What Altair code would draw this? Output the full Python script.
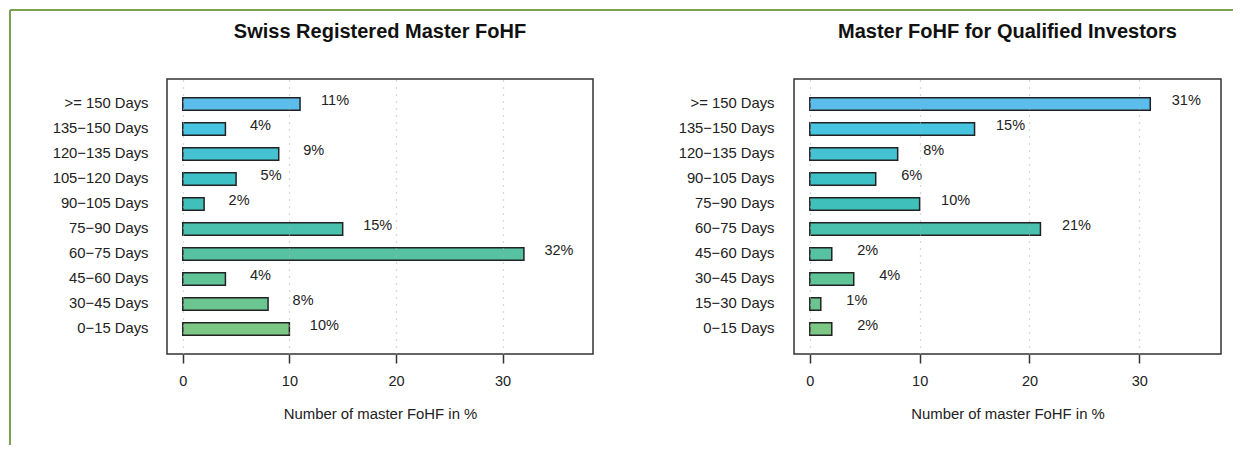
import altair as alt
import pandas as pd

left_cats = [">= 150 Days", "135−150 Days", "120−135 Days", "105−120 Days", "90−105 Days",
             "75−90 Days", "60−75 Days", "45−60 Days", "30−45 Days", "0−15 Days"]
left_vals = [11, 4, 9, 5, 2, 15, 32, 4, 8, 10]
right_cats = [">= 150 Days", "135−150 Days", "120−135 Days", "90−105 Days", "75−90 Days",
              "60−75 Days", "45−60 Days", "30−45 Days", "15−30 Days", "0−15 Days"]
right_vals = [31, 15, 8, 6, 10, 21, 2, 4, 1, 2]
bar_colors = ["#5BBDEB", "#47C4E0", "#44C2D2", "#3EC1C6", "#40C0BA",
              "#4AC1AE", "#56C2A2", "#5FC498", "#6BC58E", "#7CC784"]
x_ticks = [0, 10, 20, 30]
titles = ["Swiss Registered Master FoHF", "Master FoHF for Qualified Investors"]
x_title = "Number of master FoHF in %"

FONT = "Liberation Sans"
GREEN = "#7aa24e"
TXT = "#222222"


def panel(cats, vals, title, width, domain, label_pad, dx, frame):
    df = pd.DataFrame({
        "cat": cats,
        "val": vals,
        "label": [f"{v}%" for v in vals],
        "color": bar_colors,
    })
    y_enc = alt.Y("cat:N", sort=cats,
                  scale=alt.Scale(paddingInner=0.5, paddingOuter=0.75),
                  axis=alt.Axis(title=None, ticks=False, tickSize=0, domain=False, grid=False,
                                labelPadding=label_pad, labelFontSize=14.8, labelColor=TXT,
                                labelFont=FONT))
    x_scale = alt.Scale(domain=domain, nice=False, zero=False)
    x_axis = alt.Axis(values=x_ticks, title=x_title, grid=True, gridDash=[1, 6],
                      gridColor="#b0b0b0", gridWidth=1.2, domain=False, tickSize=9,
                      tickColor="#333333", tickWidth=1.5, labelPadding=11,
                      labelFontSize=14.5, labelColor=TXT, labelFont=FONT,
                      titleFontSize=14.9, titleFontWeight="normal", titleColor=TXT,
                      titleFont=FONT, titlePadding=19, zindex=1)
    base = alt.Chart(df)
    bars = base.mark_bar(stroke="#222222", strokeWidth=1.5).encode(
        y=y_enc,
        x=alt.X("val:Q", scale=x_scale, axis=x_axis),
        x2=alt.datum(0),
        color=alt.Color("color:N", scale=None),
    )
    labels = base.mark_text(align="center", baseline="middle", dx=dx, dy=-3,
                            fontSize=14.5, font=FONT, color=TXT).encode(
        y=alt.Y("cat:N", sort=cats),
        x=alt.X("val:Q"),
        text="label:N",
    )
    ttl = alt.Chart(pd.DataFrame({"t": [title]})).mark_text(
        align="center", baseline="middle", fontSize=20, fontWeight="bold",
        font=FONT, color="#111111").encode(
        x=alt.value(width / 2), y=alt.value(-47), text="t:N")
    layers = [bars, labels, ttl]
    if frame:
        fd = pd.DataFrame({"a": [0]})
        vline = alt.Chart(fd).mark_rule(color=GREEN, strokeWidth=2).encode(
            x=alt.value(-157), y=alt.value(-69), y2=alt.value(366))
        hline = alt.Chart(fd).mark_rule(color=GREEN, strokeWidth=2).encode(
            x=alt.value(-157), x2=alt.value(1066), y=alt.value(-69))
        layers += [vline, hline]
    return alt.layer(*layers).properties(width=width, height=275)


left = panel(left_cats, left_vals, titles[0], 426, [-1.48, 38.48], 19, 35, True)
right = panel(right_cats, right_vals, titles[1], 427, [-1.44, 37.44], 20, 36, False)

chart = alt.hconcat(left, right, spacing=201, bounds="flush").resolve_scale(
    x="independent", y="independent"
).properties(padding=0, background="white").configure(font=FONT).configure_view(
    stroke="#333333", strokeWidth=1.5
)

chart.save("out.html", embed_options={"renderer": "svg", "actions": False})
